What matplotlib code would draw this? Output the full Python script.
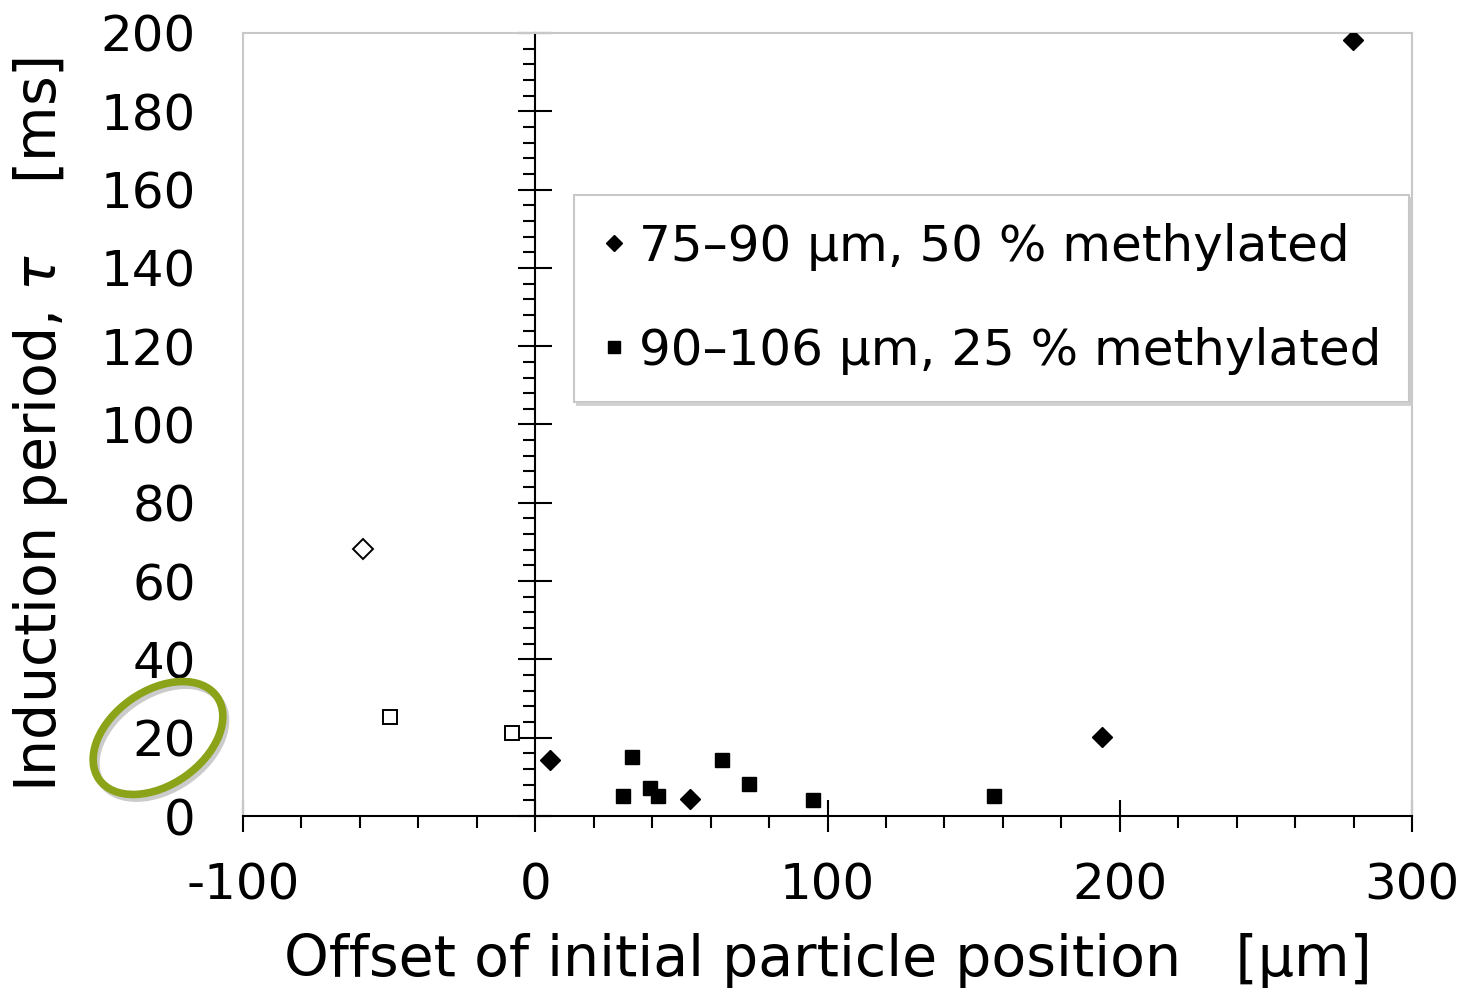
import matplotlib
matplotlib.use("Agg")
import matplotlib.pyplot as plt
from matplotlib.patches import Ellipse
from matplotlib.transforms import IdentityTransform
from matplotlib.ticker import MultipleLocator

# 75-90 um, 50 % methylated (filled diamonds)
d50_x = [279.7, 193.8, 5.0, 52.9]
d50_y = [198.2, 20.2, 14.3, 4.3]
# 90-106 um, 25 % methylated (filled squares)
s25_x = [33.0, 29.9, 39.2, 41.9, 63.8, 73.1, 95.0, 156.9]
s25_y = [15.1, 5.1, 7.2, 5.1, 14.3, 8.2, 4.1, 5.1]
# open symbols (negative offsets)
d50_open_x = [-59.0]
d50_open_y = [68.2]
s25_open_x = [-49.8, -8.0]
s25_open_y = [25.3, 21.2]

labels = ["75\u201390 \u00b5m, 50 % methylated", "90\u2013106 \u00b5m, 25 % methylated"]

plt.rcParams['font.family'] = ['DejaVu Sans']
plt.rcParams['axes.unicode_minus'] = False

fig = plt.figure(figsize=(14.6, 9.94), dpi=100)
ax = fig.add_axes([243/1460, 1 - 816/994, 1169/1460, 783/994])

ax.plot(d50_x, d50_y, 'D', color='black', markersize=10, label=labels[0], zorder=5)
ax.plot(s25_x, s25_y, 's', color='black', markersize=10.5, label=labels[1], zorder=5)
ax.plot(d50_open_x, d50_open_y, 'D', mfc='white', mec='black', mew=1.4, markersize=10, zorder=5)
ax.plot(s25_open_x, s25_open_y, 's', mfc='white', mec='black', mew=1.4, markersize=10.5, zorder=5)

ax.set_xlim(-100, 300)
ax.set_ylim(0, 200)

for s in ['left', 'top', 'right']:
    ax.spines[s].set_color('#c8c8c8')
    ax.spines[s].set_linewidth(1.5)
ax.spines['bottom'].set_color('black')
ax.spines['bottom'].set_linewidth(1.5)

ax.xaxis.set_major_locator(MultipleLocator(100))
ax.xaxis.set_minor_locator(MultipleLocator(20))
ax.yaxis.set_major_locator(MultipleLocator(20))
ax.tick_params(axis='x', which='major', direction='inout', length=23, width=1.5,
               labelsize=36, pad=21)
ax.tick_params(axis='x', which='minor', direction='out', length=8.6, width=1.5)
ax.tick_params(axis='y', which='both', length=0, labelsize=36, pad=34)

# vertical axis through x = 0 with the tick marks
sec = ax.secondary_yaxis(0.25)
sec.spines['left'].set_color('black')
sec.spines['left'].set_linewidth(1.5)
sec.yaxis.set_major_locator(MultipleLocator(20))
sec.yaxis.set_minor_locator(MultipleLocator(4))
sec.tick_params(which='major', direction='inout', length=24, width=1.5, labelleft=False)
sec.tick_params(which='minor', direction='out', length=8.6, width=1.5)

ax.set_xlabel("Offset of initial particle position   [\u00b5m]", fontsize=41, labelpad=17)
ax.set_ylabel("Induction period, $\\tau$    [ms]", fontsize=41, labelpad=22)

leg = ax.legend(loc='upper left', bbox_to_anchor=(0.283, 0.793), fontsize=36,
                frameon=True, fancybox=False, shadow={'color': '0.8', 'alpha': 0.8},
                markerscale=0.85, handlelength=0.5, handletextpad=0.25,
                labelspacing=1.12, borderpad=0.55, borderaxespad=0)
leg.get_frame().set_edgecolor('#c8c8c8')
leg.get_frame().set_linewidth(1.5)

# green highlight ellipse around the "20" label (pixel coordinates)
shadow = Ellipse((161, 252), 144, 94, angle=35, fill=False, ec='0.6', lw=5,
                 alpha=0.5, transform=IdentityTransform())
ring = Ellipse((158, 256), 144, 94, angle=35, fill=False, ec='#8ba318', lw=5.5,
               transform=IdentityTransform())
fig.add_artist(shadow)
fig.add_artist(ring)

fig.savefig("out.png", dpi=100)
